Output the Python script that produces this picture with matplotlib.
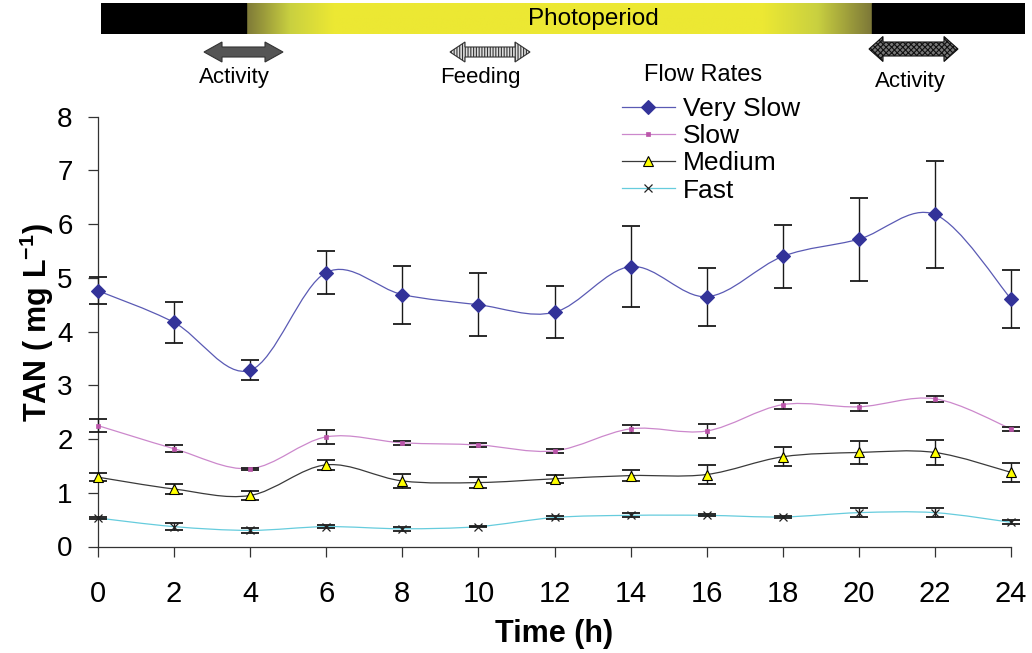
import numpy as np
import matplotlib
matplotlib.use("Agg")
import matplotlib.pyplot as plt
from matplotlib.path import Path
from matplotlib.patches import PathPatch, Polygon, Rectangle
from matplotlib.lines import Line2D
from matplotlib.colors import to_rgb
from matplotlib.transforms import Affine2D

plt.rcParams["font.family"] = ["Liberation Sans", "DejaVu Sans"]
plt.rcParams["mathtext.fontset"] = "custom"
plt.rcParams["mathtext.rm"] = "Liberation Sans"
plt.rcParams["mathtext.bf"] = "Liberation Sans:bold"
plt.rcParams["hatch.linewidth"] = 0.8

# sampling time (h) and mean TAN (mg/L) with error for each flow rate
hours = [0, 2, 4, 6, 8, 10, 12, 14, 16, 18, 20, 22, 24]
very_slow = [4.76, 4.17, 3.28, 5.10, 4.69, 4.50, 4.36, 5.21, 4.65, 5.40, 5.72, 6.18, 4.61]
very_slow_err = [0.25, 0.39, 0.19, 0.40, 0.54, 0.59, 0.48, 0.76, 0.54, 0.58, 0.77, 0.99, 0.54]
slow = [2.25, 1.82, 1.45, 2.04, 1.93, 1.89, 1.78, 2.19, 2.15, 2.64, 2.60, 2.75, 2.19]
slow_err = [0.12, 0.07, 0.02, 0.13, 0.04, 0.04, 0.04, 0.08, 0.13, 0.08, 0.08, 0.06, 0.04]
medium = [1.29, 1.07, 0.95, 1.52, 1.22, 1.19, 1.26, 1.32, 1.34, 1.67, 1.75, 1.75, 1.38]
medium_err = [0.08, 0.09, 0.09, 0.09, 0.13, 0.10, 0.07, 0.11, 0.17, 0.18, 0.22, 0.24, 0.18]
fast = [0.53, 0.37, 0.30, 0.37, 0.33, 0.37, 0.54, 0.58, 0.58, 0.55, 0.63, 0.63, 0.45]
fast_err = [0.02, 0.07, 0.04, 0.03, 0.04, 0.01, 0.03, 0.04, 0.02, 0.02, 0.08, 0.08, 0.04]

series_names = ["Very Slow", "Slow", "Medium", "Fast"]

# light regime (h): lights come on, reach full, start dimming, go off
lights_on = 3.9
lights_full = 6.2
dim_start = 17.5
lights_off = 20.35

W, H = 1032, 653


def smooth_path(x, y):
    # Catmull-Rom style cubic Bezier through the points (like a spreadsheet "smoothed line")
    pts = np.column_stack([x, y]).astype(float)
    ext = np.vstack([pts[0], pts, pts[-1]])
    verts = [pts[0]]
    codes = [Path.MOVETO]
    for i in range(1, len(pts)):
        p0, p1, p2, p3 = ext[i - 1], ext[i], ext[i + 1], ext[i + 2]
        verts += [p1 + (p2 - p0) / 6, p2 - (p3 - p1) / 6, p2]
        codes += [Path.CURVE4] * 3
    return Path(verts, codes)


def double_arrow(x0, x1, yc, head_len, head_h, shaft_h):
    return [
        (x0, yc), (x0 + head_len, yc - head_h / 2), (x0 + head_len, yc - shaft_h / 2),
        (x1 - head_len, yc - shaft_h / 2), (x1 - head_len, yc - head_h / 2), (x1, yc),
        (x1 - head_len, yc + head_h / 2), (x1 - head_len, yc + shaft_h / 2),
        (x0 + head_len, yc + shaft_h / 2), (x0 + head_len, yc + head_h / 2),
    ]


fig = plt.figure(figsize=(W / 100, H / 100), dpi=100)
ax = fig.add_axes([98 / W, 1 - 546.5 / H, 913 / W, 429.8 / H])

styles = [
    dict(line="#5a5ab4", marker="D", ms=7, mfc="#333399", mec="#333399", mew=0.8),
    dict(line="#cc88cc", marker="s", ms=3.2, mfc="#bb55aa", mec="#bb55aa", mew=0.5),
    dict(line="#3a3a3a", marker="^", ms=7.5, mfc="#ffff00", mec="#000000", mew=0.8),
    dict(line="#66ccdd", marker="x", ms=6, mfc="#222222", mec="#222222", mew=0.9),
]
values = [very_slow, slow, medium, fast]
errors = [very_slow_err, slow_err, medium_err, fast_err]

handles = []
for name, y, err, st in zip(series_names, values, errors, styles):
    ax.add_patch(PathPatch(smooth_path(hours, y), fill=False, ec=st["line"], lw=0.9, zorder=2))
    eb = ax.errorbar(hours, y, yerr=err, fmt="none", ecolor="#1a1a1a",
                     elinewidth=1.0, capsize=6.5, capthick=1.3, zorder=3)
    for art in eb.get_children():
        art.set_clip_on(False)
    ax.plot(hours, y, ls="none", marker=st["marker"], ms=st["ms"], mfc=st["mfc"],
            mec=st["mec"], mew=st["mew"], zorder=4, clip_on=False)
    handles.append(Line2D([], [], color=st["line"], lw=0.9, marker=st["marker"], ms=st["ms"],
                          mfc=st["mfc"], mec=st["mec"], mew=st["mew"]))

ax.set_xlim(0, 24)
ax.set_ylim(0, 8)
ax.set_xticks(range(0, 25, 2))
ax.set_yticks(range(0, 9))
for s in ["top", "right"]:
    ax.spines[s].set_visible(False)
for s in ["left", "bottom"]:
    ax.spines[s].set_color("#333333")
    ax.spines[s].set_linewidth(0.9)
ax.tick_params(direction="out", length=7.2, width=0.9, color="#333333")
ax.tick_params(axis="x", labelsize=21, pad=17)
ax.tick_params(axis="y", labelsize=20, pad=11)

ax.set_xlabel("Time (h)", fontsize=22, fontweight="bold")
ax.xaxis.set_label_coords(0.5, -0.168)
ax.set_ylabel(r"TAN ( mg L$^{\mathbf{-1}}$)", fontsize=22, fontweight="bold")
ax.yaxis.label.set_va("center")
ax.yaxis.set_label_coords(-0.067, 0.52)

fig.text(703 / W, 1 - 75 / H, "Flow Rates", ha="center", va="center", fontsize=17)
ax.legend(handles, series_names, loc="upper left", bbox_to_anchor=(622 / W, 1 - 97 / H),
          bbox_transform=fig.transFigure, frameon=False,
          fontsize=19, handlelength=2.0, handletextpad=0.3,
          labelspacing=0.12, borderpad=0, borderaxespad=0)

# photoperiod bar across the top, in hours
bar = fig.add_axes([101 / W, 1 - 34 / H, 924 / W, 31 / H])
bx0, bx1 = (101 - 98) / 38.04, (1025 - 98) / 38.04
olive, mid, yellow = to_rgb("#7d7838"), to_rgb("#c9d040"), to_rgb("#ece833")
stops = [lights_on, (lights_on + lights_full) / 2, lights_full,
         dim_start, (dim_start + lights_off) / 2, lights_off]
stop_cols = np.array([olive, mid, yellow, yellow, mid, olive])
grid = np.linspace(lights_on, lights_off, 600)
grad = np.stack([np.interp(grid, stops, stop_cols[:, k]) for k in range(3)], axis=-1)
bar.imshow(grad[np.newaxis], extent=(lights_on, lights_off, 0, 1), aspect="auto")
bar.add_patch(Rectangle((bx0, 0), lights_on - bx0, 1, color="black"))
bar.add_patch(Rectangle((lights_off, 0), bx1 - lights_off, 1, color="black"))
bar.text((lights_on + lights_off) / 2 + 0.9, 0.5, "Photoperiod", ha="center", va="center",
         fontsize=17.5)
bar.set_xlim(bx0, bx1)
bar.set_ylim(0, 1)
bar.axis("off")

# activity / feeding markers drawn in pixel space
px = Affine2D().scale(1 / W, -1 / H).translate(0, 1) + fig.transFigure
fig.patches.append(Polygon(double_arrow(204, 283, 52, 18, 20, 10), closed=True,
                           fc="#555555", ec="#333333", lw=0.8, transform=px))
fig.patches.append(Polygon(double_arrow(450, 530, 52, 15, 20, 10), closed=True,
                           fc="#dddddd", ec="#333333", lw=0.8, hatch="||||||", transform=px))
fig.patches.append(Polygon(double_arrow(869, 958, 49, 14, 25, 14), closed=True,
                           fc="#777777", ec="#111111", lw=0.8, hatch="xxxxxx", transform=px))
fig.text(234 / W, 1 - 78 / H, "Activity", ha="center", va="center", fontsize=16)
fig.text(480 / W, 1 - 78 / H, "Feeding", ha="center", va="center", fontsize=16)
fig.text(910 / W, 1 - 82 / H, "Activity", ha="center", va="center", fontsize=16)

fig.savefig("out.png", dpi=100)
